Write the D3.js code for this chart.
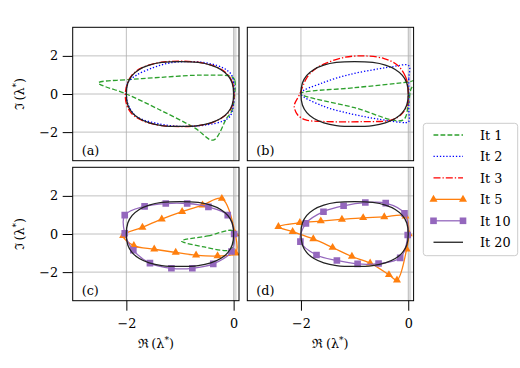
<!DOCTYPE html>
<html>
<head>
<meta charset="utf-8">
<script src="https://cdn.jsdelivr.net/npm/d3@7"></script>
<style>
  body { margin: 0; background: #fff; }
  text { font-family: "DejaVu Serif", serif; fill: #000; }
</style>
</head>
<body>
<svg id="chart" width="520" height="368"></svg>
<script>
const panelLabels = ['(a)', '(b)', '(c)', '(d)'];
const iterLabels = ['It 1', 'It 2', 'It 3', 'It 5', 'It 10', 'It 20'];
const xTicks = [-2, 0];
const yTicks = [-2, 0, 2];

// final contour, same in every panel
const it20 = [[0, 0], [-0.027, 0.576], [-0.109, 0.976], [-0.242, 1.289], [-0.426, 1.515], [-0.661, 1.654],
  [-1, 1.70], [-1.339, 1.654], [-1.574, 1.515], [-1.758, 1.289], [-1.891, 0.976], [-1.973, 0.576],
  [-2, 0], [-1.973, -0.576], [-1.891, -0.976], [-1.758, -1.289], [-1.574, -1.515], [-1.339, -1.654],
  [-1, -1.70], [-0.661, -1.654], [-0.426, -1.515], [-0.242, -1.289], [-0.109, -0.976], [-0.027, -0.576]];

// (a)
const aIt1 = [[0.02, 0.0], [0.02, 0.73], [-0.04, 0.92], [-0.4, 0.99], [-0.75, 0.98], [-1.38, 0.87], [-1.94, 0.76],
  [-2.52, 0.58], [-2.0, 0.0], [-1.4, -0.8], [-0.72, -1.79], [-0.38, -2.42], [-0.13, -1.27], [-0.04, -0.92]];
const aIt2 = [[0.01, 0], [0.0, 0.6], [-0.05, 1.05], [-0.19, 1.36], [-0.45, 1.6], [-0.8, 1.7], [-1.19, 1.63],
  [-1.5, 1.38], [-1.81, 0.99], [-1.97, 0.6], [-2.0, 0], [-1.96, -0.6], [-1.81, -1.18], [-1.38, -1.57],
  [-0.94, -1.70], [-0.5, -1.62], [-0.2, -1.42], [-0.07, -1.18], [-0.01, -0.7]];
const aIt3 = [[0.005, 0], [-0.02, 0.58], [-0.10, 0.99], [-0.24, 1.31], [-0.43, 1.53], [-0.67, 1.67], [-1, 1.72],
  [-1.34, 1.67], [-1.58, 1.52], [-1.77, 1.29], [-1.90, 0.97], [-1.98, 0.56], [-2.02, -0.02], [-1.99, -0.6],
  [-1.91, -1.0], [-1.77, -1.3], [-1.58, -1.52], [-1.34, -1.66], [-1, -1.71], [-0.66, -1.66], [-0.42, -1.52],
  [-0.24, -1.29], [-0.10, -0.98], [-0.02, -0.58]];

// (b)
const bIt1 = [[-2, 0.02], [-1, 0.33], [0.0, 0.63], [0.15, 0.72], [0.05, 0.25], [0.0, -0.6], [-0.1, -1.37], [-1, -0.72]];
const bIt2 = [[0.01, 0], [0.01, 0.8], [0.01, 1.49], [-0.3, 1.43], [-0.55, 1.32], [-1.1, 1.02], [-1.6, 0.58],
  [-2.0, 0.03], [-1.6, -0.62], [-1.05, -1.05], [-0.55, -1.32], [-0.05, -1.50], [0.01, -1.45], [0.01, -0.8]];
const bIt3 = [[0.0, 0.2], [-0.05, 0.9], [-0.2, 1.51], [-0.45, 1.86], [-0.82, 2.0], [-1.2, 1.92], [-1.53, 1.62],
  [-1.72, 1.34], [-1.88, 0.9], [-2.03, -0.05], [-2.125, -0.62], [-2.06, -1.1], [-1.91, -1.36], [-1.6, -1.44],
  [-0.82, -1.45], [-0.32, -1.37], [-0.14, -1.1], [-0.02, -0.6]];

// (c)
const cIt1 = [[-0.97, -0.37], [-0.48, -0.1], [-0.02, 0.17], [0.0, -0.2], [-0.02, -0.7], [-0.1, -0.86], [-0.55, -0.68]];
const cIt5 = [[-0.22, 1.86], [0.03, 0.0], [0.04, -1.0], [-0.30, -1.15], [-0.70, -1.11], [-1.08, -0.97],
  [-1.48, -0.80], [-1.86, -0.61], [-2.06, -0.09], [-1.70, 0.35], [-1.34, 0.78], [-0.96, 1.17], [-0.58, 1.51]];
const cIt10 = [[0.01, 0.0], [-0.11, 0.99], [-0.47, 1.42], [-0.866, 1.60], [-1.265, 1.60], [-1.66, 1.45],
  [-2.03, 0.99], [-2.03, 0.04], [-1.87, -0.85], [-1.56, -1.53], [-1.16, -1.80], [-0.77, -1.80], [-0.38, -1.57],
  [-0.04, -0.92]];

// (d)
const dIt5 = [[-2.42, 0.38], [-2.155, 0.12], [-1.77, -0.26], [-1.41, -0.71], [-1.05, -1.18], [-0.71, -1.53],
  [-0.36, -2.14], [-0.21, -2.42], [-0.03, -0.80], [0.01, 0.0], [-0.05, 0.93], [-0.447, 0.9], [-0.84, 0.85],
  [-1.236, 0.77], [-1.63, 0.68], [-2.02, 0.59]];
const dIt10 = [[-0.01, -0.05], [-0.07, 1.08], [-0.42, 1.62], [-0.80, 1.65], [-1.205, 1.48], [-1.58, 1.17],
  [-1.907, 0.56], [-2.01, -0.40], [-1.71, -1.10], [-1.33, -1.39], [-0.944, -1.57], [-0.553, -1.55], [-0.15, -1.25]];

const panelSeries = [
  { 'It 1': aIt1, 'It 2': aIt2, 'It 3': aIt3, 'It 20': it20 },
  { 'It 1': bIt1, 'It 2': bIt2, 'It 3': bIt3, 'It 20': it20 },
  { 'It 1': cIt1, 'It 5': cIt5, 'It 10': cIt10, 'It 20': it20 },
  { 'It 5': dIt5, 'It 10': dIt10, 'It 20': it20 }
];

const styles = {
  'It 1': { color: '#2ca02c', dash: '4.8,2.2' },
  'It 2': { color: '#0000ff', dash: '1.3,1.9' },
  'It 3': { color: '#ff0000', dash: '7,2,1.3,2' },
  'It 5': { color: '#ff7f0e', marker: d3.symbolTriangle, size: 28 },
  'It 10': { color: '#9467bd', marker: d3.symbolSquare, size: 44 },
  'It 20': { color: '#222222' }
};

const axW = 166.3, axH = 133.4;
const axLeft = [72.7, 247.3], axTop = [27.3, 167.3];

const svg = d3.select('#chart');
const defs = svg.append('defs');

const x = d3.scaleLinear().domain([-3, 0.1]).range([0, axW]);
const y = d3.scaleLinear().domain([-3.5, 3.5]).range([axH, 0]);

const contour = d3.line()
  .x(d => x(d[0]))
  .y(d => y(d[1]))
  .curve(d3.curveCatmullRomClosed.alpha(0.5));

const fmt = d => d < 0 ? '\u2212' + Math.abs(d) : String(d);

panelLabels.forEach((label, i) => {
  const col = i % 2, row = Math.floor(i / 2);
  const g = svg.append('g').attr('transform', `translate(${axLeft[col]},${axTop[row]})`);

  defs.append('clipPath').attr('id', 'clip' + i)
    .append('rect').attr('width', axW).attr('height', axH);

  // shaded strip right of the imaginary axis
  g.append('rect')
    .attr('x', x(0)).attr('y', 0)
    .attr('width', x(0.055) - x(0)).attr('height', axH)
    .attr('fill', '#dcdcdc');

  g.selectAll('.gx').data(xTicks).join('line')
    .attr('x1', d => x(d)).attr('x2', d => x(d))
    .attr('y1', 0).attr('y2', axH)
    .attr('stroke', '#b0b0b0').attr('stroke-width', 0.8);
  g.selectAll('.gy').data(yTicks).join('line')
    .attr('y1', d => y(d)).attr('y2', d => y(d))
    .attr('x1', 0).attr('x2', axW)
    .attr('stroke', '#b0b0b0').attr('stroke-width', 0.8);

  const plot = g.append('g').attr('clip-path', `url(#clip${i})`);
  const series = panelSeries[i];
  iterLabels.forEach(name => {
    const pts = series[name];
    if (!pts) return;
    const st = styles[name];
    plot.append('path')
      .attr('d', contour(pts))
      .attr('fill', 'none')
      .attr('stroke', st.color)
      .attr('stroke-width', 1.3)
      .attr('stroke-dasharray', st.dash || null);
    if (st.marker) {
      plot.selectAll(null).data(pts).join('path')
        .attr('transform', d => `translate(${x(d[0])},${y(d[1])})`)
        .attr('d', d3.symbol().type(st.marker).size(st.size))
        .attr('fill', st.color);
    }
  });

  g.append('rect')
    .attr('width', axW).attr('height', axH)
    .attr('fill', 'none').attr('stroke', '#000').attr('stroke-width', 1);

  g.append('text')
    .attr('x', 9).attr('y', axH - 6)
    .attr('font-size', 12.8)
    .text(label);

  if (col === 0) {
    const ay = g.append('g').call(d3.axisLeft(y).tickValues(yTicks).tickSize(10).tickPadding(4.5).tickFormat(fmt));
    ay.select('.domain').remove();
    ay.selectAll('text').attr('font-size', 12.8).attr('font-family', '"DejaVu Serif", serif');
  }
  if (row === 1) {
    const ax = g.append('g').attr('transform', `translate(0,${axH})`)
      .call(d3.axisBottom(x).tickValues(xTicks).tickSize(10).tickPadding(8).tickFormat(fmt));
    ax.select('.domain').remove();
    ax.selectAll('text').attr('font-size', 12.8).attr('font-family', '"DejaVu Serif", serif');

    const xl = svg.append('text')
      .attr('x', axLeft[col] + axW / 2).attr('y', 348)
      .attr('text-anchor', 'middle').attr('font-size', 12.8);
    xl.append('tspan').text('\u211C\u2009(\u03BB');
    xl.append('tspan').attr('dy', -5).attr('font-size', 9).text('*');
    xl.append('tspan').attr('dy', 5).text(')');
  }
  if (col === 0) {
    const yl = svg.append('text')
      .attr('transform', `translate(23.5,${axTop[row] + axH / 2}) rotate(-90)`)
      .attr('text-anchor', 'middle').attr('font-size', 12.8);
    yl.append('tspan').text('\u2111\u2009(\u03BB');
    yl.append('tspan').attr('dy', -5).attr('font-size', 9).text('*');
    yl.append('tspan').attr('dy', 5).text(')');
  }
});

// legend
const leg = svg.append('g');
leg.append('rect')
  .attr('x', 423.3).attr('y', 123.3).attr('width', 94.4).attr('height', 132.4)
  .attr('rx', 3).attr('fill', '#fff').attr('fill-opacity', 0.8)
  .attr('stroke', '#cccccc').attr('stroke-width', 1);

iterLabels.forEach((name, k) => {
  const st = styles[name];
  const cy = 135 + k * 21.45;
  leg.append('line')
    .attr('x1', 433.5).attr('x2', 463).attr('y1', cy).attr('y2', cy)
    .attr('stroke', st.color).attr('stroke-width', 1.3)
    .attr('stroke-dasharray', st.dash || null);
  if (st.marker) {
    [433.5, 463].forEach(mx => {
      leg.append('path')
        .attr('transform', `translate(${mx},${cy})`)
        .attr('d', d3.symbol().type(st.marker).size(st.size))
        .attr('fill', st.color);
    });
  }
  leg.append('text')
    .attr('x', 480).attr('y', cy + 4.8)
    .attr('font-size', 12.8)
    .text(name);
});
</script>
</body>
</html>
